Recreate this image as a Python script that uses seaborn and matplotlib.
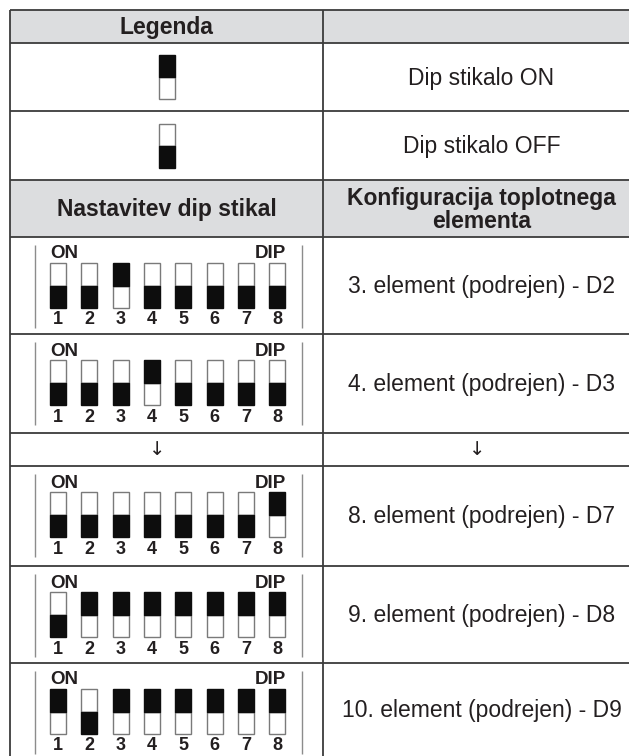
import numpy as np
import seaborn as sns
import matplotlib.pyplot as plt

# table content
header_left = ['Legenda', 'Nastavitev dip stikal']
header_right = ['', 'Konfiguracija toplotnega\nelementa']
legend_labels = ['Dip stikalo ON', 'Dip stikalo OFF']
legend_states = [1, 0]
switch_numbers = ['1', '2', '3', '4', '5', '6', '7', '8']
config_labels = ['3. element (podrejen) - D2', '4. element (podrejen) - D3',
                 '8. element (podrejen) - D7', '9. element (podrejen) - D8',
                 '10. element (podrejen) - D9']
dip_d2 = [0, 0, 1, 0, 0, 0, 0, 0]
dip_d3 = [0, 0, 0, 1, 0, 0, 0, 0]
dip_d7 = [0, 0, 0, 0, 0, 0, 0, 1]
dip_d8 = [0, 1, 1, 1, 1, 1, 1, 1]
dip_d9 = [1, 0, 1, 1, 1, 1, 1, 1]
dip_rows = [dip_d2, dip_d3, dip_d7, dip_d8, dip_d9]

sns.set_theme(style='white')
plt.rcParams['font.family'] = ['Liberation Sans', 'DejaVu Sans']

fig = plt.figure(figsize=(6.29, 7.56), dpi=100)
ax = fig.add_axes([0, 0, 1, 1])
ax.set_xlim(0, 629)
ax.set_ylim(756, 0)
ax.axis('off')

X0, XM, X1 = 10, 323, 640
GRID = '#3c3c3c'
HEAD = '#dcdddf'
TXT = '#231f20'
BLK = '#0d0d0d'
EDGE = '#7a7a7a'

# row edges: header, ON, OFF, header, D2, D3, arrow, D7, D8, D9
edges = [10, 43, 111, 180, 237, 334, 433, 466, 566, 663, 762]
cl = (X0 + XM) / 2
cr = (XM + X1) / 2

for top, bot in [(edges[0], edges[1]), (edges[3], edges[4])]:
    ax.fill_between([X0, X1], top, bot, color=HEAD, lw=0, zorder=0)

ax.hlines(edges, X0, X1, color=GRID, lw=1.3, zorder=3)
ax.vlines([X0, XM], edges[0], edges[-1], color=GRID, lw=1.3, zorder=3)


def draw_switches(xs, top, h, w, states):
    states = np.array(states)
    half = h / 2
    # white halves first, black on top
    up_white = states == 0
    ax.bar(xs[up_white], half, bottom=top, width=w, color='white',
           edgecolor=EDGE, lw=1, zorder=4)
    ax.bar(xs[~up_white], half, bottom=top + half, width=w, color='white',
           edgecolor=EDGE, lw=1, zorder=4)
    ax.bar(xs[~up_white], half, bottom=top, width=w, color=BLK,
           edgecolor=BLK, lw=1, zorder=5)
    ax.bar(xs[up_white], half, bottom=top + half, width=w, color=BLK,
           edgecolor=BLK, lw=1, zorder=5)


# headers
hs = 16.5
ax.text(cl, (edges[0] + edges[1]) / 2 + 1, header_left[0], ha='center', va='center',
        fontsize=hs, fontweight='bold', color=TXT)
ax.text(cl, (edges[3] + edges[4]) / 2 + 1, header_left[1], ha='center', va='center',
        fontsize=hs, fontweight='bold', color=TXT)
ax.text(cr, (edges[3] + edges[4]) / 2 + 1, header_right[1], ha='center', va='center',
        fontsize=hs, fontweight='bold', color=TXT, linespacing=1.0)

# legend rows
for i, (lab, st) in enumerate(zip(legend_labels, legend_states)):
    top, bot = edges[1 + i], edges[2 + i]
    mid = (top + bot) / 2
    draw_switches(np.array([cl]), mid - 22, 44, 16, [st])
    ax.text(cr, mid + 1, lab, ha='center', va='center', fontsize=hs, color=TXT)

# dip switch rows
xs = 58 + 31.3 * np.arange(8)
row_tops = [edges[4], edges[5], edges[7], edges[8], edges[9]]
row_bots = [edges[5], edges[6], edges[8], edges[9], edges[10] - 6]
for y0, y1, states, lab in zip(row_tops, row_bots, dip_rows, config_labels):
    draw_switches(xs, y0 + 26, 45, 16, states)
    ax.vlines([35, 302], y0 + 8, y0 + 91, color='#8c8c8c', lw=1, zorder=3)
    ax.text(50, y0 + 17, 'ON', ha='left', va='center', fontsize=13.5,
            fontweight='bold', color=TXT)
    ax.text(286, y0 + 17, 'DIP', ha='right', va='center', fontsize=13.5,
            fontweight='bold', color=TXT)
    for x, n in zip(xs, switch_numbers):
        ax.text(x, y0 + 83, n, ha='center', va='center', fontsize=13,
                fontweight='bold', color=TXT)
    ax.text(cr, (y0 + y1) / 2 + 1, lab, ha='center', va='center', fontsize=hs, color=TXT)

# arrow row
am = (edges[6] + edges[7]) / 2
for x in [157, cr - 4]:
    ax.text(x, am, '\u2193', ha='center', va='center', fontsize=14, color=TXT,
            family=['DejaVu Sans'])

plt.savefig('out.png', dpi=100)
